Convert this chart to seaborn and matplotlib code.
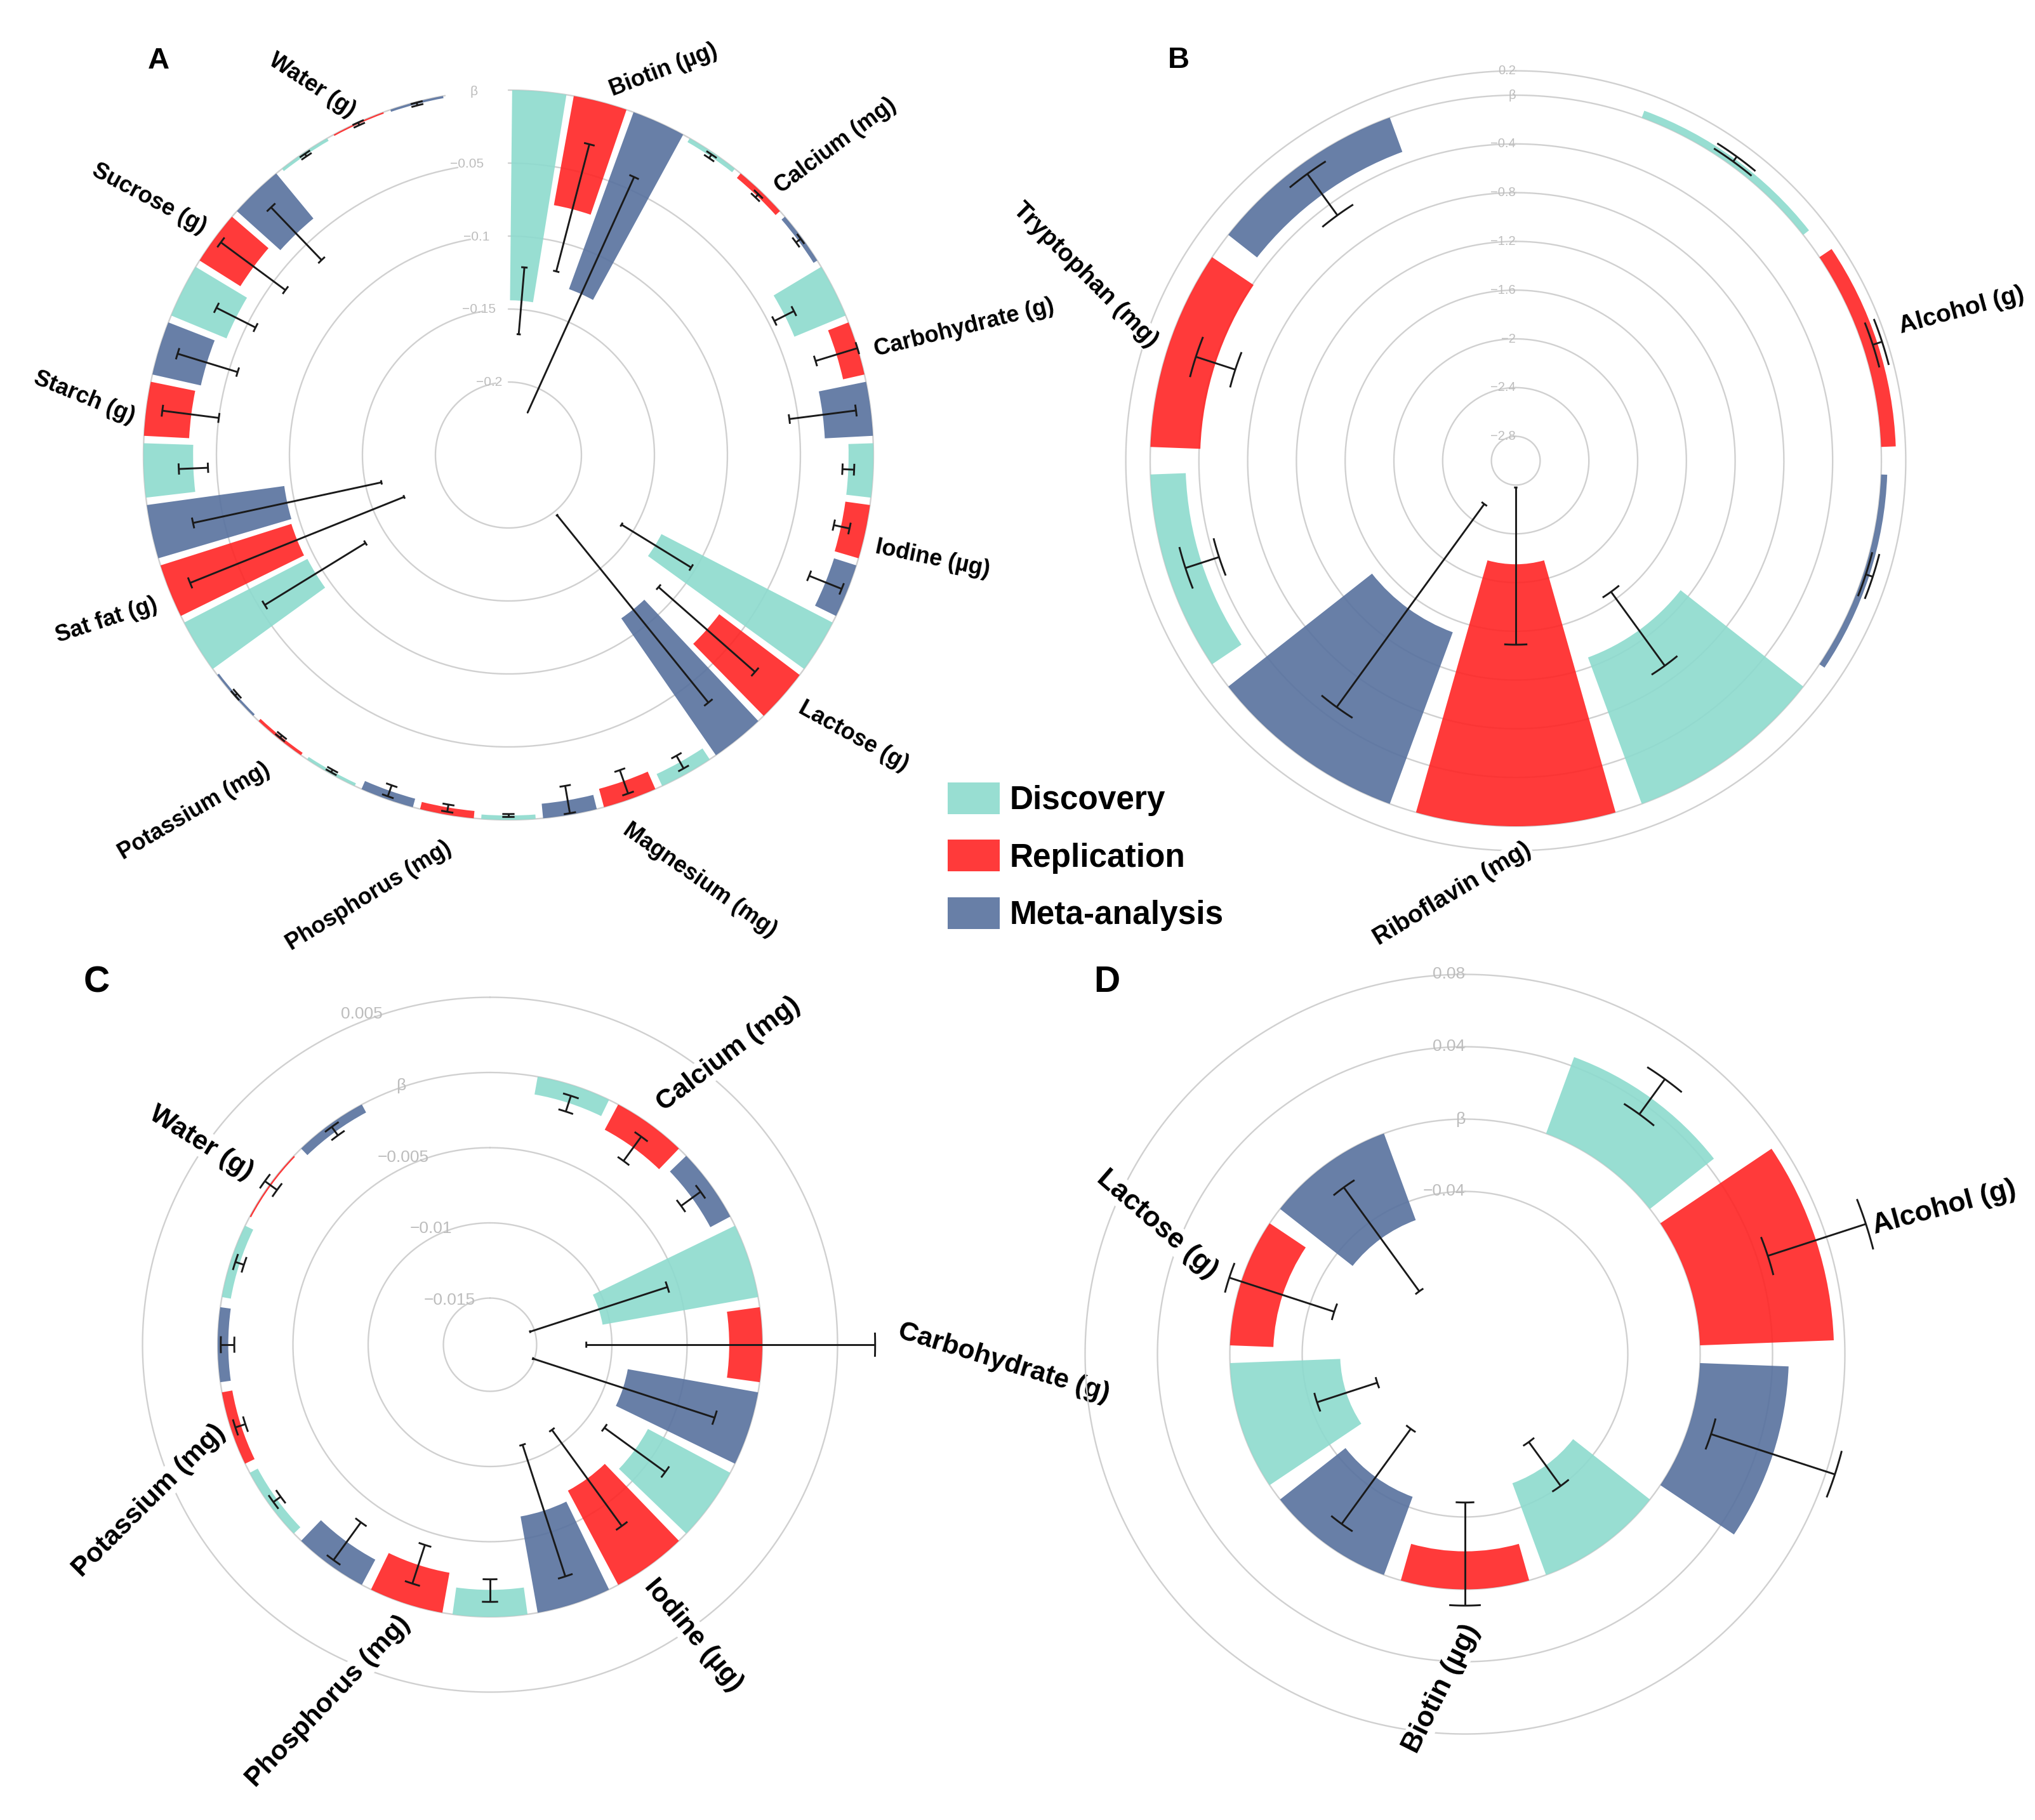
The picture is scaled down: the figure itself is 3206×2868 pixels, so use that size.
import numpy as np
import matplotlib
matplotlib.use("Agg")
import matplotlib.pyplot as plt
from matplotlib.patches import Patch
import seaborn as sns

sns.set_theme(style="white")
plt.rcParams["font.family"] = ["Liberation Sans", "DejaVu Sans"]
plt.rcParams["text.color"] = "black"

W, H, DPI = 3206, 2868, 100

# ---------------- data ----------------
series = ["Discovery", "Replication", "Meta-analysis"]

# Panel A
a_cats = ["Biotin (µg)", "Calcium (mg)", "Carbohydrate (g)", "Iodine (µg)", "Lactose (g)",
          "Magnesium (mg)", "Phosphorus (mg)", "Potassium (mg)", "Sat fat (g)", "Starch (g)",
          "Sucrose (g)", "Water (g)"]
a_disc = [-0.144, -0.003, -0.038, -0.017, -0.132, -0.009, -0.003, -0.002, -0.095, -0.034, -0.041, -0.002]
a_disc_lo = [-0.167, -0.0045, -0.046, -0.021, -0.159, -0.014, -0.004, -0.003, -0.135, -0.044, -0.056, -0.003]
a_disc_hi = [-0.121, -0.0015, -0.031, -0.013, -0.103, -0.004, -0.002, -0.001, -0.054, -0.024, -0.026, -0.001]
a_rep = [-0.076, -0.004, -0.015, -0.017, -0.069, -0.013, -0.005, -0.002, -0.094, -0.031, -0.033, -0.001]
a_rep_lo = [-0.120, -0.0055, -0.030, -0.022, -0.113, -0.021, -0.007, -0.003, -0.173, -0.050, -0.060, -0.002]
a_rep_hi = [-0.030, -0.0025, 0.000, -0.011, -0.025, -0.004, -0.002, -0.001, -0.015, -0.011, -0.005, 0.000]
a_meta = [-0.129, -0.003, -0.033, -0.016, -0.114, -0.010, -0.006, -0.0015, -0.095, -0.034, -0.040, -0.0015]
a_meta_lo = [-0.218, -0.005, -0.056, -0.028, -0.197, -0.020, -0.010, -0.0025, -0.161, -0.056, -0.065, -0.0025]
a_meta_hi = [-0.041, -0.001, -0.010, -0.004, -0.032, -0.001, -0.002, -0.0005, -0.029, -0.013, -0.015, -0.0005]
a_ticks = [0.0, -0.05, -0.1, -0.15, -0.2]
a_ticklabels = ["β", "−0.05", "−0.1", "−0.15", "−0.2"]

# Panel B
b_cats = ["Alcohol (g)", "Riboflavin (mg)", "Tryptophan (mg)"]
b_disc = [0.06, -1.28, -0.29]
b_disc_lo = [0.035, -1.67, -0.44]
b_disc_hi = [0.085, -0.92, -0.15]
b_rep = [0.12, -2.15, -0.41]
b_rep_lo = [0.08, -2.78, -0.58]
b_rep_hi = [0.16, -1.49, -0.24]
b_meta = [0.05, -1.50, -0.30]
b_meta_lo = [0.02, -2.56, -0.51]
b_meta_hi = [0.08, -0.50, -0.09]
b_ticks = [0.2, 0.0, -0.4, -0.8, -1.2, -1.6, -2.0, -2.4, -2.8]
b_ticklabels = ["0.2", "β", "−0.4", "−0.8", "−1.2", "−1.6", "−2", "−2.4", "−2.8"]

# Panel C
c_cats = ["Calcium (mg)", "Carbohydrate (g)", "Iodine (µg)", "Phosphorus (mg)", "Potassium (mg)", "Water (g)"]
c_disc = [-0.0012, -0.0105, -0.0062, -0.0018, -0.0006, -0.0006]
c_disc_lo = [-0.0018, -0.0153, -0.0087, -0.0025, -0.0009, -0.0009]
c_disc_hi = [-0.0007, -0.0057, -0.0037, -0.0010, -0.0003, -0.0003]
c_rep = [-0.0019, -0.0022, -0.0071, -0.0027, -0.0007, -0.0001]
c_rep_lo = [-0.0030, -0.0117, -0.0111, -0.0041, -0.0010, -0.0006]
c_rep_hi = [-0.0010, 0.0075, -0.0032, -0.0014, -0.0003, 0.0004]
c_meta = [-0.0015, -0.0088, -0.0065, -0.0019, -0.0007, -0.0006]
c_meta_lo = [-0.0024, -0.0151, -0.0111, -0.0035, -0.0011, -0.0009]
c_meta_hi = [-0.0008, -0.0024, -0.0019, -0.0004, -0.0002, -0.0002]
c_ticks = [0.005, 0.0, -0.005, -0.01, -0.015]
c_ticklabels = ["0.005", "β", "−0.005", "−0.01", "−0.015"]

# Panel D
d_cats = ["Alcohol (g)", "Biotin (µg)", "Lactose (g)"]
d_disc = [0.045, -0.054, -0.061]
d_disc_lo = [0.034, -0.070, -0.079]
d_disc_hi = [0.058, -0.040, -0.044]
d_rep = [0.074, -0.021, -0.024]
d_rep_lo = [0.046, -0.048, -0.054]
d_rep_hi = [0.103, 0.009, 0.007]
d_meta = [0.049, -0.046, -0.051]
d_meta_lo = [0.013, -0.079, -0.087]
d_meta_hi = [0.085, -0.014, -0.016]
d_ticks = [0.08, 0.04, 0.0, -0.04]
d_ticklabels = ["0.08", "0.04", "β", "−0.04"]

# ---------------- layout / style ----------------
palette = sns.color_palette(["#8DDBCE", "#FF2424", "#57719E"])
BAR_ALPHA = 0.9
GRID = "#D0D0D0"
AXTXT = "#BDBDBD"

panels = {
    "A": dict(center=(801, 717), scale=2300, ylim=(-0.25, 0.012), nslots=37, offset=0.5,
              arc=(0, 350), tick_fs=15, cat_fs=26, bbox=False,
              labpos=[(21.9, 654, 21), (46.6, 709, 36.6), (74.4, 745, 14), (103.7, 688, -11.7),
                      (129.2, 701, -29), (155.8, 735, -35), (197.6, 729, 31.6), (221.4, 748, 30.4),
                      (247.6, 685, 18), (277.7, 674, -22), (305.5, 695, -28), (332, 660, -33)],
              letter=(250, 108, 34)),
    "B": dict(center=(2388, 726), scale=192, ylim=(-3.0, 0.25), nslots=10, offset=1,
              arc=(0, 360), tick_fs=14.5, cat_fs=28, bbox=True,
              labpos=[(71.4, 741, 15), (188.3, 690, 31), (293.3, 738, -45)],
              letter=(1857, 107, 34)),
    "C": dict(center=(772, 2119), scale=23700, ylim=(-0.0181, 0.008), nslots=20, offset=1,
              arc=(0, 360), tick_fs=19, cat_fs=31, bbox=True,
              labpos=[(39.4, 592, 37), (92, 810, -17), (145, 559, -50),
                      (204.4, 617, 46.5), (245.4, 591, 45), (305, 555, -32)],
              letter=(152, 1563, 41)),
    "D": dict(center=(2308, 2134), scale=2850, ylim=(-0.13, 0.11), nslots=10, offset=1,
              arc=(0, 360), tick_fs=19, cat_fs=32, bbox=True,
              labpos=[(73, 790, 15), (184, 528, 63.5), (292.9, 526, -41)],
              letter=(1744, 1563, 41)),
}

data = {
    "A": (a_cats, [(a_disc, a_disc_lo, a_disc_hi), (a_rep, a_rep_lo, a_rep_hi), (a_meta, a_meta_lo, a_meta_hi)], a_ticks, a_ticklabels),
    "B": (b_cats, [(b_disc, b_disc_lo, b_disc_hi), (b_rep, b_rep_lo, b_rep_hi), (b_meta, b_meta_lo, b_meta_hi)], b_ticks, b_ticklabels),
    "C": (c_cats, [(c_disc, c_disc_lo, c_disc_hi), (c_rep, c_rep_lo, c_rep_hi), (c_meta, c_meta_lo, c_meta_hi)], c_ticks, c_ticklabels),
    "D": (d_cats, [(d_disc, d_disc_lo, d_disc_hi), (d_rep, d_rep_lo, d_rep_hi), (d_meta, d_meta_lo, d_meta_hi)], d_ticks, d_ticklabels),
}

fig = plt.figure(figsize=(W / DPI, H / DPI), dpi=DPI)
fig.patch.set_facecolor("white")


def draw_panel(key):
    p = panels[key]
    cats, ser, ticks, ticklabels = data[key]
    y0, y1 = p["ylim"]
    R = (y1 - y0) * p["scale"]
    cx, cy = p["center"]
    ax = fig.add_axes([(cx - R) / W, (H - cy - R) / H, 2 * R / W, 2 * R / H], projection="polar")
    ax.set_theta_zero_location("N")
    ax.set_theta_direction(-1)
    ax.set_ylim(y0, y1)
    ax.set_xticks([])
    ax.set_yticks([])
    ax.grid(False)
    ax.spines["polar"].set_visible(False)
    ax.patch.set_alpha(0)

    slot = 2 * np.pi / p["nslots"]
    # grid circles
    th = np.deg2rad(np.linspace(p["arc"][0], p["arc"][1], 400))
    for t in ticks:
        ax.plot(th, np.full_like(th, t), color=GRID, lw=1.7, zorder=1)

    nb = len(cats) * 3
    for g in range(len(cats)):
        for s in range(3):
            k = g * 3 + s
            theta = (k + p["offset"]) * slot
            v = ser[s][0][g]
            lo = ser[s][1][g]
            hi = ser[s][2][g]
            ax.bar(theta, abs(v), width=0.88 * slot, bottom=min(v, 0.0),
                   color=palette[s], alpha=BAR_ALPHA, linewidth=0, zorder=2)
            ax.plot([theta, theta], [lo, hi], color="#1a1a1a", lw=2.1, zorder=4,
                    solid_capstyle="butt")
            cw = 0.2 * slot
            tt = np.linspace(theta - cw / 2, theta + cw / 2, 12)
            for r in (lo, hi):
                ax.plot(tt, np.full_like(tt, r), color="#1a1a1a", lw=2.1, zorder=4,
                        solid_capstyle="butt")

    # radial axis labels at the empty slot
    tl = (nb + p["offset"]) * slot
    for t, lab in zip(ticks, ticklabels):
        ax.text(tl, t, lab, ha="right", va="center", color=AXTXT,
                fontsize=p["tick_fs"], zorder=5)

    # category labels
    for name, (tdeg, rpx, rot) in zip(cats, p["labpos"]):
        kw = {}
        if p["bbox"]:
            kw["bbox"] = dict(facecolor="white", edgecolor="none", pad=1)
        ax.text(np.deg2rad(tdeg), y0 + rpx / p["scale"], name, rotation=rot,
                rotation_mode="anchor", ha="center", va="center", fontsize=p["cat_fs"],
                fontweight="bold", color="black", zorder=6, **kw)

    lx, ly, lfs = p["letter"]
    fig.text(lx / W, 1 - ly / H, key, ha="center", va="baseline", fontsize=lfs,
             fontweight="bold", color="black")
    return ax


for key in ["A", "B", "C", "D"]:
    draw_panel(key)

handles = [Patch(facecolor=palette[i], alpha=BAR_ALPHA, edgecolor="none") for i in range(3)]
fig.legend(handles, series, loc="upper left", bbox_to_anchor=(1493 / W, 1 - 1233 / H),
           frameon=False, borderpad=0, borderaxespad=0, labelcolor="black",
           prop={"weight": "bold", "size": 37, "family": "Liberation Sans"},
           handlelength=1.6, handleheight=1.12, labelspacing=0.72, handletextpad=0.3)

fig.savefig("out.png", dpi=DPI, facecolor="white")
